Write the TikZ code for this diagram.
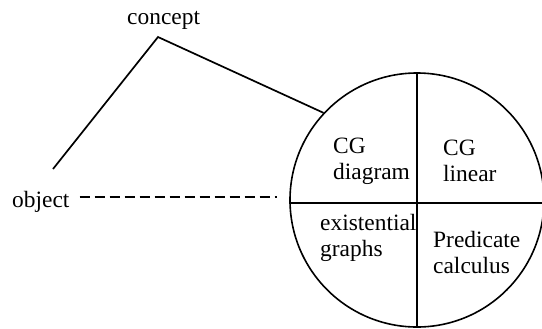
\documentclass[tikz,border=0pt]{standalone}
\usepackage{fontspec}
\setmainfont{Liberation Serif}
\begin{document}
\begin{tikzpicture}[x=1bp,y=-1bp,
  lbl/.style={inner sep=0pt, font=\fontsize{23.5}{26.5}\selectfont},
  blk/.style={lbl, align=left, anchor=north west},
  ln/.style={line width=1.7bp},
  dashln/.style={line width=1.7bp, dash pattern=on 10.5bp off 4.5bp}]
\useasboundingbox (0,0) rectangle (542,328);
\begin{scope}
\clip (0,0) rectangle (542,328);
% labels
\node[lbl, anchor=base west] (concept) at (127,24) {concept};
\node[lbl, anchor=base west] (obj) at (12,207) {object};
% circle
\node[circle, draw, line width=1.6bp, minimum size=254bp, inner sep=0pt] (c) at (417,200) {};
\draw[ln] (c.north) -- (c.south);
\draw[ln] (c.west) ++(0,3) -- ++(254,0);
% quadrant texts
\node[blk] (cgd) at (333,137.5) {CG\\diagram};
\node[blk] (cgl) at (443,139.5) {CG\\linear};
\node[blk] (eg) at (320,214) {existential\\graphs};
\node[blk] (pc) at (433,231) {Predicate\\calculus};
% connectors
\coordinate (apex) at (158,37);
\coordinate (objtop) at (53,169);
\coordinate (dashend) at (277,197);
\draw[ln] (objtop) -- (apex) -- (c.137.2);
\draw[dashln] (obj.east |- dashend) ++(10,0) -- (dashend);
\end{scope}
\end{tikzpicture}
\end{document}
